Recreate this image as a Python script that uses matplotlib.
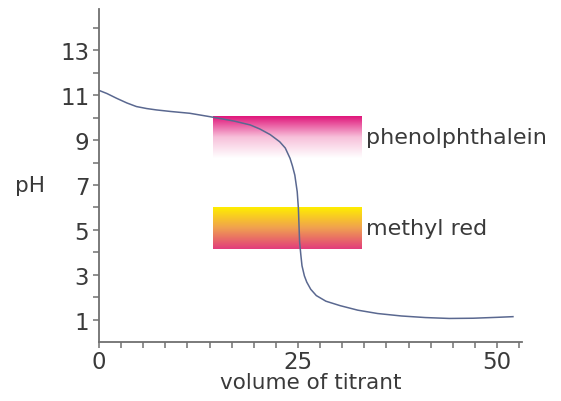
import matplotlib.pyplot as plt
import matplotlib.colors as mcolors
import numpy as np

# titration curve
volume = [0, 1, 2.2, 3.5, 4.7, 6, 7.2, 9, 11.4, 14.4, 17, 19, 20.2, 21.5, 22.7,
          23.4, 24.0, 24.3, 24.6, 24.9, 25.05, 25.12, 25.2, 25.35, 25.5, 25.8,
          26.1, 26.6, 27.3, 28.5, 30.3, 32.5, 35, 38, 41, 44, 47, 50, 52]
ph = [11.22, 11.08, 10.87, 10.66, 10.5, 10.41, 10.35, 10.28, 10.2, 10.02, 9.85,
      9.68, 9.5, 9.25, 8.93, 8.65, 8.19, 7.85, 7.44, 6.7, 5.95, 5.25, 4.46, 3.9,
      3.4, 2.95, 2.67, 2.35, 2.07, 1.82, 1.62, 1.42, 1.27, 1.16, 1.09, 1.05,
      1.06, 1.1, 1.13]

# indicator ranges: name, x span, pH span, colours (top, bottom)
indicators = ["phenolphthalein", "methyl red"]
ind_x = [(14.3, 33.0), (14.3, 33.0)]
ind_ph = [(8.2, 10.05), (4.15, 6.0)]
ind_colors = [["#e0157a", "#f7c0da", "#ffffff"], ["#ffee00", "#f0a050", "#e23c7c"]]

x_major = [0, 25, 50]
y_major = [1, 3, 5, 7, 9, 11, 13]

fig = plt.figure(figsize=(5.61, 4.02), dpi=100)
ax = fig.add_axes([99 / 561, 1 - 343 / 402, 422.7 / 561, 333 / 402])

for name, xs, ys, cols in zip(indicators, ind_x, ind_ph, ind_colors):
    cmap = mcolors.LinearSegmentedColormap.from_list(name, cols)
    grad = np.linspace(0, 1, 256).reshape(-1, 1)
    ax.imshow(grad, cmap=cmap, extent=[xs[0], xs[1], ys[0], ys[1]],
              aspect="auto", zorder=1)
    ax.text(xs[1] + 0.6, (ys[0] + ys[1]) / 2, name, fontsize=16,
            color="#3a3a3a", va="center", ha="left")

ax.plot(volume, ph, color="#5a6890", linewidth=1.1, zorder=2)

ax.set_xlim(0, 53.1)
ax.set_ylim(0, 14.85)

for s in ["top", "right"]:
    ax.spines[s].set_visible(False)
for s in ["left", "bottom"]:
    ax.spines[s].set_color("#707070")
    ax.spines[s].set_linewidth(1.3)

ax.set_xticks(x_major)
ax.set_xticks(np.arange(0, 53, 25 / 9), minor=True)
ax.set_yticks(y_major)
ax.set_yticks(range(1, 15), minor=True)
ax.tick_params(which="both", direction="out", length=4, width=1.1,
               color="#707070", labelsize=16.5, labelcolor="#3a3a3a")
ax.tick_params(axis="x", pad=2)
ax.tick_params(axis="y", pad=3)

ax.set_xlabel("volume of titrant", fontsize=15.5, color="#3a3a3a", labelpad=-1)
ax.set_ylabel("pH", fontsize=15.5, color="#3a3a3a", rotation=0, va="center",
              ha="center")
ax.yaxis.set_label_coords(-0.163, 7 / 14.85)

fig.savefig("out.png", dpi=100)
